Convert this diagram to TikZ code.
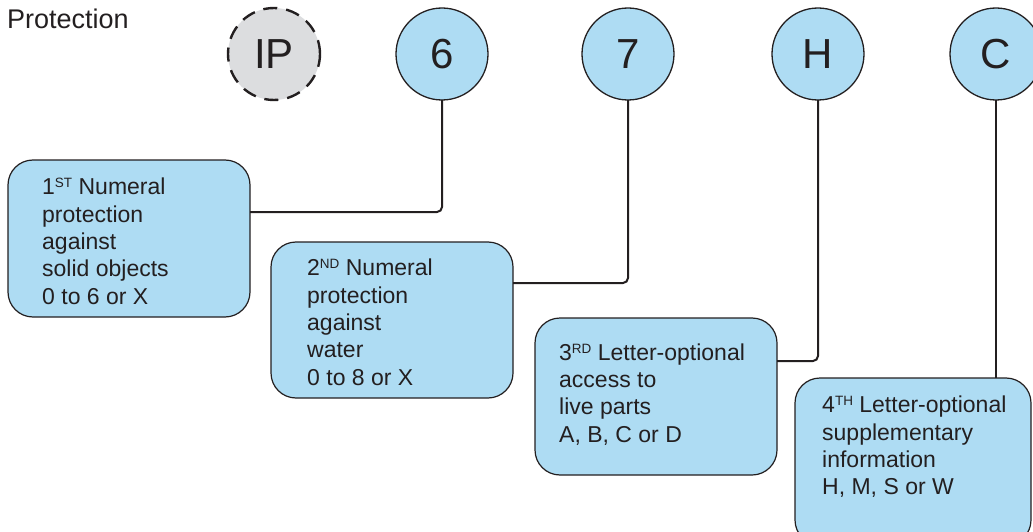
\documentclass[tikz,border=0pt]{standalone}
\usepackage{fontspec}
\setmainfont{Liberation Sans}
\usetikzlibrary{calc}
\definecolor{boxblue}{HTML}{AEDCF3}
\definecolor{ipgrey}{HTML}{DCDDDF}
\definecolor{ink}{HTML}{231F20}
\newcommand{\supx}[1]{\raisebox{7pt}{\fontsize{13.5}{13.5}\selectfont #1}}
\begin{document}
\begin{tikzpicture}[x=1pt,y=-1pt,
  code/.style={circle, draw=ink, line width=1.3pt, fill=boxblue, minimum size=92pt, inner sep=0pt, outer sep=0pt, text=ink, font=\fontsize{42}{42}\selectfont},
  ipcode/.style={code, fill=ipgrey, line width=2.4pt, dash pattern=on 14pt off 9pt},
  infobox/.style={rectangle, rounded corners=25pt, draw=ink, line width=1.2pt, fill=boxblue, inner sep=0pt, outer sep=0pt},
  infotext/.style={anchor=north west, align=left, inner sep=0pt, text=ink, font=\fontsize{23}{27.3}\selectfont},
  conn/.style={draw=ink, line width=2pt, rounded corners=5pt}]
\useasboundingbox (0,0) rectangle (1033,532);
\clip (0,0) rectangle (1033,532);

\node[anchor=base west, inner sep=0pt, text=ink, font=\fontsize{27}{27}\selectfont] (title) at (7,29) {Protection};

\node[ipcode] (cIP) at (274,54) {IP};
\node[code] (c6) at (442,54) {6};
\node[code] (c7) at (628,54) {7};
\node[code] (cH) at (818,54) {H};
\node[code] (cC) at (996,54) {C};

\node[infobox, minimum width=242pt, minimum height=157pt] (b1) at (129,238.5) {};
\node[infobox, minimum width=242pt, minimum height=156pt] (b2) at (392,320) {};
\node[infobox, minimum width=242pt, minimum height=157pt] (b3) at (656,396.5) {};
\node[infobox, minimum width=236pt, minimum height=167pt] (b4) at (913,461.5) {};

\node[infotext] (t1) at ($(b1.north west)+(34,18)$) {1\supx{ST} Numeral\\protection\\against\\solid objects\\0 to 6 or X};
\node[infotext] (t2) at ($(b2.north west)+(36,17)$) {2\supx{ND} Numeral\\protection\\against\\water\\0 to 8 or X};
\node[infotext] (t3) at ($(b3.north west)+(24,25.5)$) {3\supx{RD} Letter-optional\\access to\\live parts\\A, B, C or D};
\node[infotext] (t4) at ($(b4.north west)+(27,18)$) {4\supx{TH} Letter-optional\\supplementary\\information\\H, M, S or W};

\draw[conn] (c6.south) |- ($(b1.north east)+(0,52)$);
\draw[conn] (c7.south) |- ($(b2.north east)+(0,41)$);
\draw[conn] (cH.south) |- ($(b3.north east)+(0,43)$);
\draw[conn] (cC.south) -- (cC.south |- b4.north);
\end{tikzpicture}
\end{document}
